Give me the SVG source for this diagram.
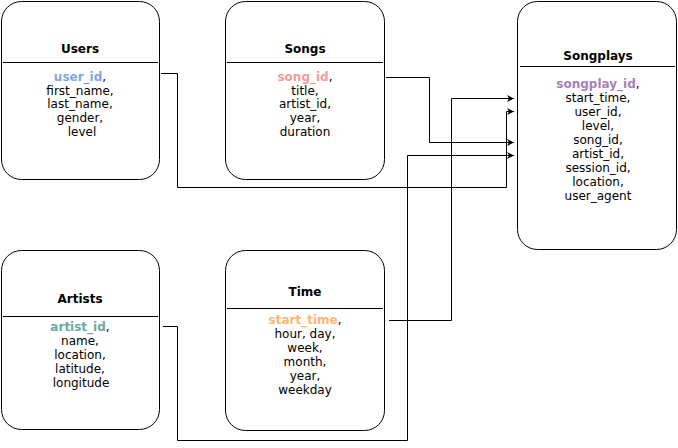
<svg xmlns="http://www.w3.org/2000/svg" width="678" height="448" viewBox="0 0 678 448">
<style>
.box{fill:#fff;stroke:#000;stroke-width:1}
.div{stroke:#000;stroke-width:1}
text{font-family:"DejaVu Sans",Verdana,sans-serif;font-size:12px;fill:#000;text-anchor:middle}
.t{font-weight:bold}
.k{font-weight:bold}
.c{fill:none;stroke:#000;stroke-width:1}
</style>
<defs>
<marker id="arr" markerWidth="8" markerHeight="8" refX="7" refY="4" orient="auto" markerUnits="userSpaceOnUse">
<path d="M0,0.5 L7,4 L0,7.5 L2,4 Z" fill="#000"/>
</marker>
</defs>
<rect width="678" height="448" fill="#fff"/>
<g id="connectors">
<path class="c" d="M161,73.5 H177.5 V187.5 H506.5 V111.5 H514" marker-end="url(#arr)"/>
<path class="c" d="M386,77.5 H429.5 V142.5 H514" marker-end="url(#arr)"/>
<path class="c" d="M163,326.5 H177.5 V440.5 H407.5 V155.5 H514" marker-end="url(#arr)"/>
<path class="c" d="M389,320.5 H451.5 V98.5 H514" marker-end="url(#arr)"/>
</g>
<g id="users">
<rect class="box" x="1.5" y="1.5" width="158" height="178" rx="20"/>
<line class="div" x1="3" y1="62.5" x2="158" y2="62.5"/>
<text class="t" x="80" y="53">Users</text>
<text x="80" y="81"><tspan class="k" fill="#7EA6E0">user_id</tspan>,</text>
<text x="80" y="95">first_name,</text>
<text x="80" y="108">last_name,</text>
<text x="80" y="122">gender,</text>
<text x="82" y="136">level</text>
</g>
<g id="songs">
<rect class="box" x="225.5" y="1.5" width="159" height="178" rx="20"/>
<line class="div" x1="227" y1="62.5" x2="383" y2="62.5"/>
<text class="t" x="305" y="53">Songs</text>
<text x="305" y="81"><tspan class="k" fill="#F19C99">song_id</tspan>,</text>
<text x="305" y="95">title,</text>
<text x="305" y="108">artist_id,</text>
<text x="305" y="122">year,</text>
<text x="305" y="136">duration</text>
</g>
<g id="songplays">
<rect class="box" x="517.5" y="1.5" width="159" height="248" rx="20"/>
<line class="div" x1="520" y1="66.5" x2="675" y2="66.5"/>
<text class="t" x="598" y="60">Songplays</text>
<text x="598" y="88"><tspan class="k" fill="#A680B8">songplay_id</tspan>,</text>
<text x="598" y="102">start_time,</text>
<text x="598" y="116">user_id,</text>
<text x="598" y="130">level,</text>
<text x="598" y="144">song_id,</text>
<text x="598" y="158">artist_id,</text>
<text x="598" y="172">session_id,</text>
<text x="598" y="186">location,</text>
<text x="598" y="200">user_agent</text>
</g>
<g id="artists">
<rect class="box" x="1.5" y="250.5" width="158" height="179" rx="20"/>
<line class="div" x1="3" y1="316.5" x2="158" y2="316.5"/>
<text class="t" x="80" y="303">Artists</text>
<text x="80" y="331"><tspan class="k" fill="#67AB9F">artist_id</tspan>,</text>
<text x="80" y="345">name,</text>
<text x="80" y="359">location,</text>
<text x="80" y="373">latitude,</text>
<text x="81" y="387">longitude</text>
</g>
<g id="time">
<rect class="box" x="225.5" y="250.5" width="159" height="180" rx="20"/>
<line class="div" x1="227" y1="308.5" x2="383" y2="308.5"/>
<text class="t" x="305" y="296">Time</text>
<text x="305" y="324"><tspan class="k" fill="#FFB570">start_time</tspan>,</text>
<text x="305" y="338">hour, day,</text>
<text x="305" y="352">week,</text>
<text x="305" y="366">month,</text>
<text x="305" y="380">year,</text>
<text x="305" y="394">weekday</text>
</g>
</svg>
